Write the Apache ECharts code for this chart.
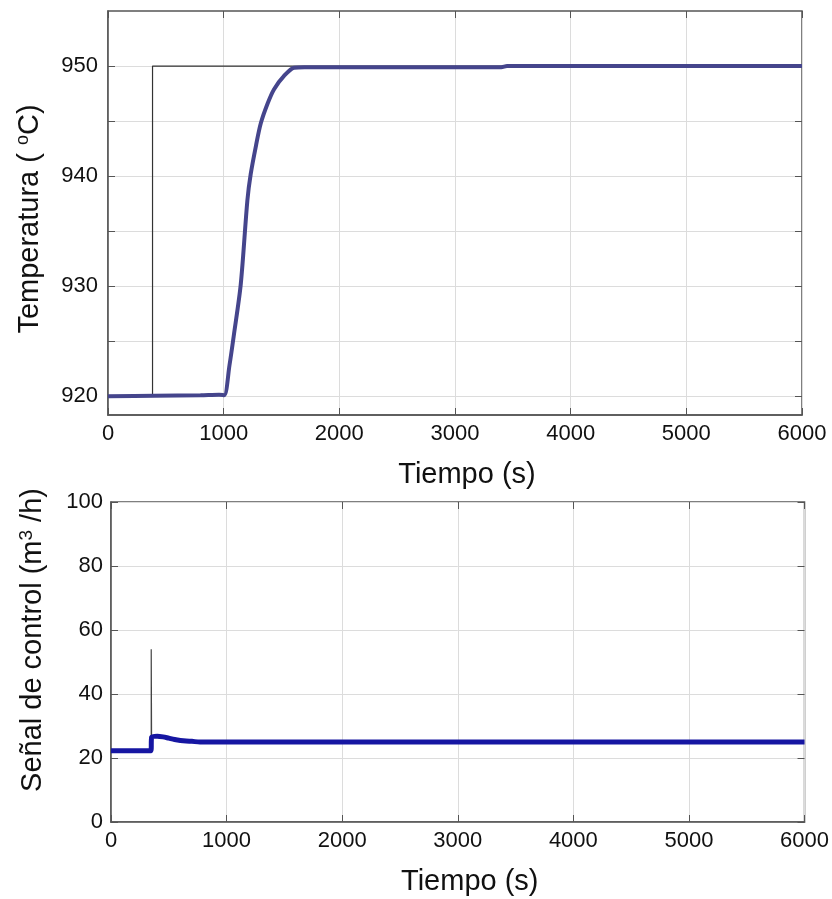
<!DOCTYPE html>
<html>
<head>
<meta charset="utf-8">
<script src="https://cdn.jsdelivr.net/npm/echarts@6/dist/echarts.min.js"></script>
<style>
  html, body { margin: 0; padding: 0; background: #fff; }
  #chart { width: 832px; height: 899px; }
</style>
</head>
<body>
<div id="chart"></div>
<script>
var chart = echarts.init(document.getElementById("chart"));

// referencia (escalon de consigna)
let tiempoRef = [0, 385, 385, 6000];
let tempRef = [920, 920, 950, 950];

// temperatura medida
let tiempoTemp = [0, 400, 800, 960, 1004, 1050, 1090, 1148, 1205, 1234, 1280, 1321, 1380, 1436, 1522, 1609, 1700, 3400, 3450, 6000];
let temp = [920, 920.05, 920.1, 920.15, 920.1, 922.8, 925.7, 930.2, 937.8, 940.2, 942.8, 944.8, 946.6, 947.9, 949.1, 949.85, 949.9, 949.9, 950, 950];

// senal de control
let tiempoCtrl = [0, 345, 352, 400, 450, 500, 550, 600, 650, 700, 770, 900, 6000];
let ctrl = [22.3, 22.3, 26.5, 26.8, 26.6, 26.2, 25.8, 25.5, 25.3, 25.2, 25.0, 25.0, 25.0];

// pico de la senal de control
let tiempoPico = [348, 348, 351];
let pico = [22.3, 54, 26.5];

let tempTicks = [920, 925, 930, 935, 940, 945, 950];
let tempLabels = [920, 930, 940, 950];

function pares(xs, ys) {
  return xs.map((x, i) => [x, ys[i]]);
}

var font = "Liberation Sans, Arial, sans-serif";
var gridColor = "#dcdcdc";
var axisColor = "#555";
var sinComa = function (v) { return String(v); };

function ejeX(gridIndex, show) {
  return {
    type: "value",
    gridIndex: gridIndex,
    min: 0,
    max: 6000,
    interval: 1000,
    position: show ? "bottom" : "top",
    name: show ? "Tiempo (s)" : "",
    nameLocation: "middle",
    nameGap: 45,
    nameTextStyle: { fontSize: 29, color: "#111", fontFamily: font, padding: [0, 0, 0, 24] },
    axisLine: { show: show, onZero: false, lineStyle: { color: axisColor, width: 1.5 } },
    axisTick: { show: true, inside: true, length: 7, lineStyle: { color: axisColor } },
    axisLabel: { show: show, fontSize: 22, color: "#111", fontFamily: font, margin: 8, formatter: sinComa },
    splitLine: { show: show, lineStyle: { color: gridColor, width: 1 } }
  };
}

chart.setOption(
  (option = {
    backgroundColor: "#fff",
    animation: false,
    grid: [
      { left: 108, top: 11, width: 694, height: 404, show: true, borderColor: axisColor, borderWidth: 1.5 },
      { left: 111, top: 502, width: 695, height: 320, show: true, borderColor: axisColor, borderWidth: 1.5 }
    ],
    xAxis: [ejeX(0, true), ejeX(0, false), ejeX(1, true), ejeX(1, false)],
    yAxis: [
      {
        type: "value",
        gridIndex: 0,
        min: 918.3,
        max: 955,
        name: "Temperatura ( {o|o}C)",
        nameLocation: "middle",
        nameGap: 62,
        nameTextStyle: {
          fontSize: 29, color: "#111", fontFamily: font, padding: [0, 12, 0, 0],
          rich: { o: { fontSize: 18, verticalAlign: "top", lineHeight: 32, color: "#111", fontFamily: font } }
        },
        axisLine: { show: true, onZero: false, lineStyle: { color: axisColor, width: 1.5 } },
        axisTick: { show: true, inside: true, length: 7, customValues: tempTicks, lineStyle: { color: axisColor } },
        axisLabel: { show: true, fontSize: 22, color: "#111", fontFamily: font, margin: 10, customValues: tempLabels, formatter: sinComa },
        splitLine: { show: true, lineStyle: { color: gridColor, width: 1 } }
      },
      {
        type: "value",
        gridIndex: 0,
        position: "right",
        min: 918.3,
        max: 955,
        axisLine: { show: false, onZero: false },
        axisTick: { show: true, inside: true, length: 7, customValues: tempTicks, lineStyle: { color: axisColor } },
        axisLabel: { show: false },
        splitLine: { show: false }
      },
      {
        type: "value",
        gridIndex: 1,
        min: 0,
        max: 100,
        interval: 20,
        name: "Señal de control (m{o|3} /h)",
        nameLocation: "middle",
        nameGap: 62,
        nameTextStyle: {
          fontSize: 29, color: "#111", fontFamily: font, padding: [0, 0, 0, 44],
          rich: { o: { fontSize: 19, verticalAlign: "top", lineHeight: 32, color: "#111", fontFamily: font } }
        },
        axisLine: { show: true, onZero: false, lineStyle: { color: axisColor, width: 1.5 } },
        axisTick: { show: true, inside: true, length: 7, lineStyle: { color: axisColor } },
        axisLabel: { show: true, fontSize: 22, color: "#111", fontFamily: font, margin: 8 },
        splitLine: { show: true, lineStyle: { color: gridColor, width: 1 } }
      },
      {
        type: "value",
        gridIndex: 1,
        position: "right",
        min: 0,
        max: 100,
        interval: 20,
        axisLine: { show: false, onZero: false },
        axisTick: { show: true, inside: true, length: 7, lineStyle: { color: axisColor } },
        axisLabel: { show: false },
        splitLine: { show: false }
      }
    ],
    series: [
      {
        type: "line",
        xAxisIndex: 0,
        yAxisIndex: 0,
        data: pares(tiempoRef, tempRef),
        showSymbol: false,
        lineStyle: { color: "#333", width: 1.2 },
        z: 2
      },
      {
        type: "line",
        xAxisIndex: 0,
        yAxisIndex: 0,
        data: pares(tiempoTemp, temp),
        showSymbol: false,
        smooth: 0.3,
        lineStyle: { color: "#45458c", width: 4 },
        z: 3
      },
      {
        type: "line",
        xAxisIndex: 2,
        yAxisIndex: 2,
        data: pares(tiempoPico, pico),
        showSymbol: false,
        lineStyle: { color: "#444", width: 1.2 },
        z: 2
      },
      {
        type: "line",
        xAxisIndex: 2,
        yAxisIndex: 2,
        data: pares(tiempoCtrl, ctrl),
        showSymbol: false,
        smooth: 0.3,
        lineStyle: { color: "#1616a2", width: 5 },
        z: 3
      }
    ]
  })
);
</script>
</body>
</html>
